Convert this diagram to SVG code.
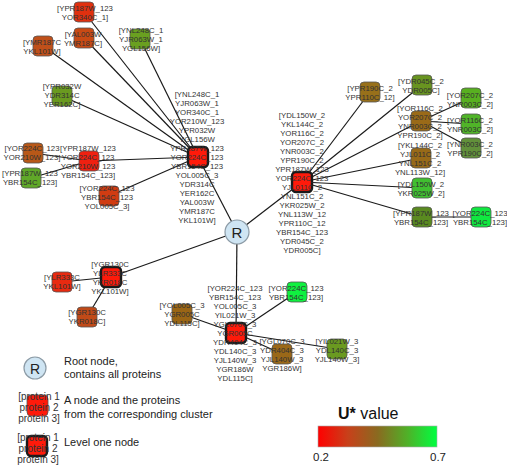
<svg xmlns="http://www.w3.org/2000/svg" width="507" height="466" viewBox="0 0 507 466">
<style>
.edge{stroke:#1a1a1a;stroke-width:1.2;fill:none}
.node{stroke:#555;stroke-width:0.8}
.l1{stroke:#1a1a1a;stroke-width:2.4}
.lbl{font-family:"Liberation Sans",Arial,sans-serif;font-size:7.8px;fill:#333;text-anchor:middle}
.leg{font-family:"Liberation Sans",Arial,sans-serif;font-size:11px;fill:#222}
.legl{font-family:"Liberation Sans",Arial,sans-serif;font-size:10px;fill:#333;text-anchor:middle}
.root{fill:#cfe5f3;stroke:#8c9ba6;stroke-width:1.2}
.rt{font-family:"Liberation Sans",Arial,sans-serif;font-size:15px;fill:#222;text-anchor:middle}
</style>
<defs>
<linearGradient id="ug" x1="0" y1="0" x2="1" y2="0">
<stop offset="0" stop-color="#ff0000"/>
<stop offset="0.25" stop-color="#c8401a"/>
<stop offset="0.5" stop-color="#8a6a20"/>
<stop offset="0.75" stop-color="#50b028"/>
<stop offset="1" stop-color="#00ff40"/>
</linearGradient>
</defs>
<rect width="507" height="466" fill="#fff"/>
<g id="connectors">
<line class="edge" x1="237" y1="232" x2="198" y2="157"/>
<line class="edge" x1="237" y1="232" x2="302" y2="182"/>
<line class="edge" x1="237" y1="232" x2="111" y2="277"/>
<line class="edge" x1="237" y1="232" x2="236" y2="333"/>
<line class="edge" x1="198" y1="157" x2="84" y2="12"/>
<line class="edge" x1="198" y1="157" x2="43" y2="46"/>
<line class="edge" x1="198" y1="157" x2="84" y2="38"/>
<line class="edge" x1="198" y1="157" x2="140" y2="39"/>
<line class="edge" x1="198" y1="157" x2="62" y2="96"/>
<line class="edge" x1="198" y1="157" x2="89" y2="161"/>
<line class="edge" x1="198" y1="157" x2="109" y2="196"/>
<line class="edge" x1="89" y1="161" x2="33" y2="153"/>
<line class="edge" x1="89" y1="161" x2="31" y2="178"/>
<line class="edge" x1="302" y1="182" x2="370" y2="92"/>
<line class="edge" x1="302" y1="182" x2="422" y2="85"/>
<line class="edge" x1="302" y1="182" x2="421" y2="121"/>
<line class="edge" x1="302" y1="182" x2="421" y2="158"/>
<line class="edge" x1="302" y1="182" x2="422" y2="188"/>
<line class="edge" x1="302" y1="182" x2="422" y2="217"/>
<line class="edge" x1="421" y1="121" x2="471" y2="98"/>
<line class="edge" x1="421" y1="121" x2="471" y2="124"/>
<line class="edge" x1="421" y1="121" x2="471" y2="148"/>
<line class="edge" x1="422" y1="217" x2="481" y2="217"/>
<line class="edge" x1="111" y1="277" x2="62" y2="282"/>
<line class="edge" x1="111" y1="277" x2="87" y2="317"/>
<line class="edge" x1="236" y1="333" x2="297" y2="292"/>
<line class="edge" x1="236" y1="333" x2="182" y2="314"/>
<line class="edge" x1="236" y1="333" x2="282" y2="354"/>
<line class="edge" x1="236" y1="333" x2="337" y2="349"/>
</g>
<g id="root">
<circle class="root" cx="237" cy="232" r="12"/>
<text class="rt" x="237" y="237.5">R</text>
</g>
<g id="n_a1"><rect class="node" x="74" y="2" width="20" height="20" rx="4" fill="#e0300f"/>
<text class="lbl" x="85"><tspan x="85" y="10.5">[YPR187W_123</tspan><tspan x="85" dy="9">YOR340C_1]</tspan></text></g>
<g id="n_a2"><rect class="node" x="33" y="36" width="20" height="20" rx="4" fill="#c0501a"/>
<text class="lbl"><tspan x="42" y="45">[YMR187C</tspan><tspan x="42" dy="9">YKL101W]</tspan></text></g>
<g id="n_a3"><rect class="node" x="74" y="28" width="20" height="20" rx="4" fill="#c84a14"/>
<text class="lbl"><tspan x="83" y="36.5">[YAL003W</tspan><tspan x="83" dy="9">YMR187C]</tspan></text></g>
<g id="n_a4"><rect class="node" x="130" y="29" width="20" height="20" rx="4" fill="#6aa020"/>
<text class="lbl"><tspan x="141" y="32.5">[YNL248C_1</tspan><tspan x="141" dy="9">YJR063W_1</tspan><tspan x="141" dy="9">YGL156W]</tspan></text></g>
<g id="n_a5"><rect class="node" x="52" y="86" width="20" height="20" rx="4" fill="#6a9a20"/>
<text class="lbl"><tspan x="62" y="89">[YPR032W</tspan><tspan x="62" dy="9">YDR314C</tspan><tspan x="62" dy="9">YER162C]</tspan></text></g>
<g id="n_a7"><rect class="node" x="23" y="143" width="20" height="20" rx="4" fill="#b85818"/>
<text class="lbl"><tspan x="32" y="151">[YOR224C_123</tspan><tspan x="32" dy="9">YOR210W_123]</tspan></text></g>
<g id="n_a8"><rect class="node" x="21" y="168" width="20" height="20" rx="4" fill="#60a828"/>
<text class="lbl"><tspan x="30" y="176">[YPR187W_123</tspan><tspan x="30" dy="9">YBR154C_123]</tspan></text></g>
<g id="n_a6"><rect class="node" x="79" y="151" width="20" height="20" rx="4" fill="#f02010"/>
<text class="lbl"><tspan x="88" y="150.5">[YPR187W_123</tspan><tspan x="88" dy="9">YOR224C_123</tspan><tspan x="88" dy="9">YOR210W_123</tspan><tspan x="88" dy="9">YBR154C_123]</tspan></text></g>
<g id="n_a9"><rect class="node" x="99" y="186" width="20" height="20" rx="4" fill="#d03c12"/>
<text class="lbl"><tspan x="107" y="190.5">[YOR224C_123</tspan><tspan x="107" dy="9">YBR154C_123</tspan><tspan x="107" dy="9">YOL005C_3]</tspan></text></g>
<g id="n_l1a"><rect class="node l1" x="188" y="147" width="20" height="20" rx="4" fill="#ff1a0a"/>
<text class="lbl"><tspan x="197" y="97">[YNL248C_1</tspan><tspan x="197" dy="9">YJR063W_1</tspan><tspan x="197" dy="9">YOR340C_1</tspan><tspan x="197" dy="9">YOR210W_123</tspan><tspan x="197" dy="9">YPR032W</tspan><tspan x="197" dy="9">YGL156W</tspan><tspan x="197" dy="9">YPR187W_123</tspan><tspan x="197" dy="9">YOR224C_123</tspan><tspan x="197" dy="9">YBR154C_123</tspan><tspan x="197" dy="9">YOL005C_3</tspan><tspan x="197" dy="9">YDR314C</tspan><tspan x="197" dy="9">YER162C</tspan><tspan x="197" dy="9">YAL003W</tspan><tspan x="197" dy="9">YMR187C</tspan><tspan x="197" dy="9">YKL101W]</tspan></text></g>
<g id="n_b1"><rect class="node" x="360" y="82" width="20" height="20" rx="4" fill="#98701a"/>
<text class="lbl"><tspan x="370" y="90.5">[YPR190C_2</tspan><tspan x="370" dy="9">YPR110C_12]</tspan></text></g>
<g id="n_b2"><rect class="node" x="412" y="75" width="20" height="20" rx="4" fill="#689420"/>
<text class="lbl"><tspan x="421" y="83.5">[YDR045C_2</tspan><tspan x="421" dy="9">YDR005C]</tspan></text></g>
<g id="n_b3"><rect class="node" x="411" y="111" width="20" height="20" rx="4" fill="#9a6a18"/>
<text class="lbl"><tspan x="420" y="110.5">[YOR116C_2</tspan><tspan x="420" dy="9">YOR207C_2</tspan><tspan x="420" dy="9">YNR003C_2</tspan><tspan x="420" dy="9">YPR190C_2]</tspan></text></g>
<g id="n_b4"><rect class="node" x="461" y="88" width="20" height="20" rx="4" fill="#58b020"/>
<text class="lbl"><tspan x="470" y="97.5">[YOR207C_2</tspan><tspan x="470" dy="9">YNR003C_2]</tspan></text></g>
<g id="n_b5"><rect class="node" x="461" y="114" width="20" height="20" rx="4" fill="#50b428"/>
<text class="lbl"><tspan x="470" y="122.5">[YOR116C_2</tspan><tspan x="470" dy="9">YNR003C_2]</tspan></text></g>
<g id="n_b6"><rect class="node" x="461" y="138" width="20" height="20" rx="4" fill="#62903a"/>
<text class="lbl"><tspan x="470" y="146.5">[YNR003C_2</tspan><tspan x="470" dy="9">YPR190C_2]</tspan></text></g>
<g id="n_b7"><rect class="node" x="411" y="148" width="20" height="20" rx="4" fill="#986a18"/>
<text class="lbl"><tspan x="420" y="147.5">[YKL144C_2</tspan><tspan x="420" dy="9">YJL011C_2</tspan><tspan x="420" dy="9">YNL151C_2</tspan><tspan x="420" dy="9">YNL113W_12]</tspan></text></g>
<g id="n_b8"><rect class="node" x="412" y="178" width="20" height="20" rx="4" fill="#40c030"/>
<text class="lbl"><tspan x="421" y="186.5">[YDL150W_2</tspan><tspan x="421" dy="9">YKR025W_2]</tspan></text></g>
<g id="n_b9"><rect class="node" x="412" y="207" width="20" height="20" rx="4" fill="#5a8a20"/>
<text class="lbl"><tspan x="421" y="215.5">[YPR187W_123</tspan><tspan x="421" dy="9">YBR154C_123]</tspan></text></g>
<g id="n_b10"><rect class="node" x="471" y="207" width="20" height="20" rx="4" fill="#10e840"/>
<text class="lbl"><tspan x="480" y="215.5">[YOR224C_123</tspan><tspan x="480" dy="9">YBR154C_123]</tspan></text></g>
<g id="n_l1b"><rect class="node l1" x="292" y="172" width="20" height="20" rx="4" fill="#ff1a0a"/>
<text class="lbl"><tspan x="302" y="117.5">[YDL150W_2</tspan><tspan x="302" dy="9">YKL144C_2</tspan><tspan x="302" dy="9">YOR116C_2</tspan><tspan x="302" dy="9">YOR207C_2</tspan><tspan x="302" dy="9">YNR003C_2</tspan><tspan x="302" dy="9">YPR190C_2</tspan><tspan x="302" dy="9">YPR187W_123</tspan><tspan x="302" dy="9">YOR224C_123</tspan><tspan x="302" dy="9">YJL011C_2</tspan><tspan x="302" dy="9">YNL151C_2</tspan><tspan x="302" dy="9">YKR025W_2</tspan><tspan x="302" dy="9">YNL113W_12</tspan><tspan x="302" dy="9">YPR110C_12</tspan><tspan x="302" dy="9">YBR154C_123</tspan><tspan x="302" dy="9">YDR045C_2</tspan><tspan x="302" dy="9">YDR005C]</tspan></text></g>
<g id="n_c1"><rect class="node" x="52" y="272" width="20" height="20" rx="4" fill="#e82a10"/>
<text class="lbl"><tspan x="62" y="280">[YLR333C</tspan><tspan x="62" dy="9">YKL101W]</tspan></text></g>
<g id="n_c2"><rect class="node" x="77" y="307" width="20" height="20" rx="4" fill="#c04a18"/>
<text class="lbl"><tspan x="87" y="315">[YGR130C</tspan><tspan x="87" dy="9">YKR018C]</tspan></text></g>
<g id="n_l1c"><rect class="node l1" x="101" y="267" width="20" height="20" rx="4" fill="#ff1a0a"/>
<text class="lbl"><tspan x="110" y="266.5">[YGR130C</tspan><tspan x="110" dy="9">YLR333C</tspan><tspan x="110" dy="9">YKR018C</tspan><tspan x="110" dy="9">YKL101W]</tspan></text></g>
<g id="n_d1"><rect class="node" x="287" y="282" width="20" height="20" rx="4" fill="#10f040"/>
<text class="lbl"><tspan x="296" y="290.5">[YOR224C_123</tspan><tspan x="296" dy="9">YBR154C_123]</tspan></text></g>
<g id="n_d2"><rect class="node" x="172" y="304" width="20" height="20" rx="4" fill="#9a6515"/>
<text class="lbl"><tspan x="182" y="308">[YOL005C_3</tspan><tspan x="182" dy="9">YGR005C</tspan><tspan x="182" dy="9">YDL115C]</tspan></text></g>
<g id="n_d3"><rect class="node" x="272" y="344" width="20" height="20" rx="4" fill="#9a6818"/>
<text class="lbl"><tspan x="282" y="343.5">[YGL070C_3</tspan><tspan x="282" dy="9">YDR404C_3</tspan><tspan x="282" dy="9">YJL140W_3</tspan><tspan x="282" dy="9">YGR186W]</tspan></text></g>
<g id="n_d4"><rect class="node" x="327" y="339" width="20" height="20" rx="4" fill="#6a9a20"/>
<text class="lbl"><tspan x="337" y="343.5">[YIL021W_3</tspan><tspan x="337" dy="9">YDL140C_3</tspan><tspan x="337" dy="9">YJL140W_3]</tspan></text></g>
<g id="n_l1d"><rect class="node l1" x="226" y="323" width="20" height="20" rx="4" fill="#ff1a0a"/>
<text class="lbl"><tspan x="235" y="291">[YOR224C_123</tspan><tspan x="235" dy="9">YBR154C_123</tspan><tspan x="235" dy="9">YOL005C_3</tspan><tspan x="235" dy="9">YIL021W_3</tspan><tspan x="235" dy="9">YGL070C_3</tspan><tspan x="235" dy="9">YGR005C</tspan><tspan x="235" dy="9">YDR404C_3</tspan><tspan x="235" dy="9">YDL140C_3</tspan><tspan x="235" dy="9">YJL140W_3</tspan><tspan x="235" dy="9">YGR186W</tspan><tspan x="235" dy="9">YDL115C]</tspan></text></g>
<g id="legend">
<circle class="root" cx="35" cy="368" r="11"/>
<text class="rt" x="35" y="373.5" style="font-size:14px">R</text>
<text class="leg" x="64" y="365">Root node,</text>
<text class="leg" x="64" y="378">contains all proteins</text>
<rect class="node" x="27" y="395" width="21" height="21" rx="4" fill="#ff1a0a"/>
<text class="legl"><tspan x="39" y="399.5">[protein 1</tspan><tspan x="39" dy="11">protein 2</tspan><tspan x="39" dy="11">protein 3]</tspan></text>
<text class="leg" x="64" y="404">A node and the proteins</text>
<text class="leg" x="64" y="418">from the corresponding cluster</text>
<rect class="node l1" x="27" y="436" width="20" height="20" rx="4" fill="#ff1a0a"/>
<text class="legl"><tspan x="38" y="440.5">[protein 1</tspan><tspan x="38" dy="11">protein 2</tspan><tspan x="38" dy="11">protein 3]</tspan></text>
<text class="leg" x="64" y="446">Level one node</text>
</g>
<g id="colorbar">
<text x="338" y="419" style="font-family:'Liberation Sans',Arial,sans-serif;font-size:16px;fill:#111"><tspan font-weight="bold">U*</tspan> value</text>
<rect x="318" y="426" width="119" height="21" fill="url(#ug)" stroke="#aaa" stroke-width="0.6"/>
<text class="leg" x="313" y="461" style="font-size:11.5px">0.2</text>
<text class="leg" x="430" y="461" style="font-size:11.5px">0.7</text>
</g>
</svg>
